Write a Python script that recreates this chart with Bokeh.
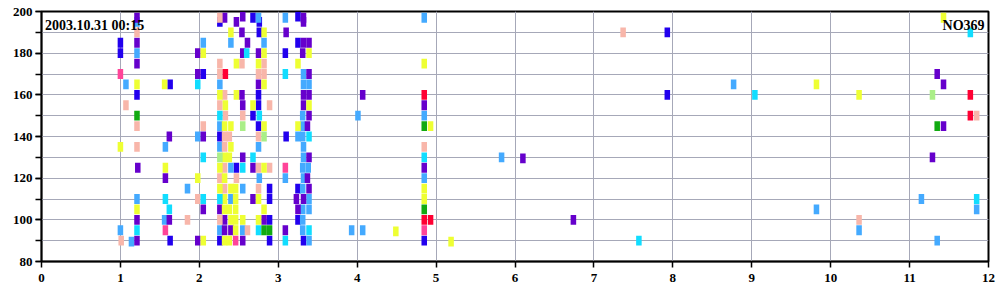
from bokeh.plotting import figure
from bokeh.models import Range1d, SingleIntervalTicker, Label, ColumnDataSource
from bokeh.embed import file_html
from bokeh.resources import INLINE

# ---- data (x in hours, y in MHz-like channel units) ----
blue_x = [1.00, 1.00, 1.21, 1.63, 2.05, 1.63, 2.26, 2.68, 2.76, 2.76, 2.75, 2.75, 2.68, 2.75, 2.26, 2.47,
          2.89, 2.89, 2.89, 2.26, 2.89, 3.25, 3.25, 3.09, 3.10, 3.25, 3.25, 3.32, 4.85, 7.93, 7.93]
blue_y = [185, 180, 160, 165, 170, 90, 195, 197, 195, 190, 160, 155, 150, 145, 140, 125,
          115, 110, 100, 90, 90, 197.5, 185, 180, 140, 115, 100, 90, 90, 190, 160]

lblue_x = [1.21, 1.21, 2.05, 1.07, 1.57, 1.98, 1.85, 1.21, 1.56, 1.00, 1.14, 2.75, 2.40, 2.82, 2.26, 2.26,
           2.26, 2.75, 2.40, 2.76, 2.55, 2.40, 2.26, 2.55, 3.09, 3.32, 3.32, 3.39, 3.31, 4.01, 3.31, 3.25,
           3.31, 3.32, 3.32, 3.31, 3.38, 3.09, 3.32, 3.31, 3.39, 3.31, 3.39, 3.31, 3.31, 3.93, 4.07, 3.39,
           4.85, 4.85, 4.85, 5.83, 8.77, 9.82, 10.36, 11.15, 11.85, 11.35]
lblue_y = [195, 180, 185, 165, 135, 140, 115, 110, 100, 95, 89.5, 197, 185, 185, 165, 145,
           135, 135, 125, 120, 115, 110, 95, 95, 197, 170, 165, 165, 150, 150, 145, 140,
           140, 135, 130, 125, 125, 120, 120, 115, 110, 105, 105, 100, 95, 95, 95, 90,
           197, 150, 120, 130, 165, 105, 95, 110, 105, 90]

purple_x = [1.21, 1.21, 1.98, 1.21, 1.98, 1.62, 2.05, 1.22, 1.57, 2.05, 1.21, 1.62, 1.21, 1.98, 2.32, 2.47,
            2.55, 2.54, 2.61, 2.55, 2.75, 2.75, 2.54, 2.55, 2.55, 2.68, 2.68, 2.26, 2.32, 2.82, 2.32, 2.40,
            2.55, 3.32, 3.32, 3.10, 3.32, 3.39, 3.31, 3.39, 3.32, 3.39, 4.07, 3.32, 3.39, 3.37, 3.39, 3.37,
            3.39, 3.23, 3.32, 3.25, 3.09, 4.85, 4.85, 6.10, 6.74, 11.35, 11.43, 11.43, 11.29]
purple_y = [197, 185, 180, 175, 170, 140, 140, 125, 120, 105, 100, 100, 90, 90, 197, 195,
            197.5, 190, 185, 180, 180, 165, 160, 155, 130, 125, 110, 105, 100, 100, 95, 95,
            90, 195, 197, 190, 185, 185, 180, 170, 160, 160, 160, 155, 150, 145, 130, 120,
            115, 110, 110, 105, 95, 155, 125, 129.5, 100, 170, 165, 145, 130]

pink_x = [1.21, 1.07, 1.21, 2.05, 1.21, 1.98, 1.85, 1.01, 2.26, 2.26, 2.54, 2.82, 2.26, 2.75, 2.82, 2.32,
          2.26, 2.89, 2.33, 2.55, 2.32, 2.38, 2.75, 2.32, 2.32, 2.75, 2.89, 2.26, 2.47, 2.32, 2.75, 2.26,
          2.61, 4.85, 7.37, 10.36, 11.85]
pink_y = [190, 155, 145, 145, 135, 110, 100, 90, 197, 175, 175, 175, 170, 170, 170, 160,
          155, 155, 150, 150, 140, 140, 140, 135, 125, 125, 125, 120, 120, 115, 115, 100,
          95, 135, 190, 100, 150]

yellow_x = [2.05, 1.21, 1.56, 1.00, 1.57, 1.98, 1.21, 2.05, 2.40, 2.82, 2.82, 2.47, 2.75, 2.82, 2.26, 2.47,
            2.33, 2.68, 2.32, 2.40, 2.82, 2.40, 2.32, 2.38, 2.26, 2.82, 2.32, 2.26, 2.40, 2.46, 2.32, 2.46,
            2.75, 2.32, 2.38, 2.46, 2.82, 2.40, 2.46, 2.55, 2.75, 2.46, 2.32, 2.38, 3.39, 3.25, 3.39, 3.25,
            4.85, 4.93, 4.85, 4.85, 4.49, 5.19, 9.82, 10.36, 11.43]
yellow_y = [180, 165, 165, 135, 125, 120, 105, 90, 190, 190, 180, 175, 175, 165, 160, 160,
            155, 155, 145, 145, 145, 135, 130, 130, 125, 125, 120, 115, 115, 115, 110, 110,
            110, 105, 105, 105, 105, 100, 100, 100, 100, 95, 90, 90, 180, 175, 155, 145,
            175, 145, 115, 110, 94.5, 89.5, 165, 160, 197]

cyan_x = [1.98, 2.05, 1.57, 2.05, 1.62, 1.21, 2.60, 2.26, 2.76, 2.68, 2.55, 2.26, 2.75, 3.09, 3.39, 3.39,
          3.09, 4.85, 7.57, 9.04, 11.77, 11.85]
cyan_y = [165, 130, 110, 110, 105, 95, 180, 150, 150, 130, 125, 110, 95, 170, 140, 95,
          90, 130, 90, 160, 190, 110]

magenta_x = [1.00, 1.57, 2.46, 3.09, 4.85]
magenta_y = [170, 95, 90, 125, 95]

red_x = [2.33, 4.85, 4.85, 4.93, 11.77, 11.77]
red_y = [170, 160, 100, 100, 160, 150]

green_x = [1.21, 2.82, 2.89, 4.85, 4.85, 11.35]
green_y = [150, 95, 95, 145, 105, 145]

lgreen_x = [2.55, 2.82, 2.26, 11.29]
lgreen_y = [145, 140, 130, 160]

x_ticks = list(range(0, 13))
y_ticks = [80, 100, 120, 140, 160, 180, 200]
title_left = "2003.10.31 00:15"
title_right = "NO369"

series = [
    (blue_x, blue_y, "#2200ee"),
    (lblue_x, lblue_y, "#44aaff"),
    (purple_x, purple_y, "#6600cc"),
    (pink_x, pink_y, "#f8b6aa"),
    (yellow_x, yellow_y, "#eeff33"),
    (cyan_x, cyan_y, "#11ddff"),
    (magenta_x, magenta_y, "#ff4499"),
    (red_x, red_y, "#ff0033"),
    (green_x, green_y, "#11aa11"),
    (lgreen_x, lgreen_y, "#aaee88"),
]

FONT = "Liberation Serif"
GRID = "#a6a8b8"

p = figure(width=1000, height=300, x_range=Range1d(0, 12), y_range=Range1d(80, 200),
           output_backend="svg", toolbar_location=None,
           min_border_left=41, min_border_right=12, min_border_top=11, min_border_bottom=39)
p.background_fill_color = "white"
p.border_fill_color = "white"
p.outline_line_color = "black"
p.outline_line_width = 2

for xs, ys, col in series:
    src = ColumnDataSource(dict(x=xs, y=ys))
    p.rect(x="x", y="y", width=0.07, height=4.7, source=src,
           fill_color=col, line_color=None)

# axes
p.xaxis.ticker = SingleIntervalTicker(interval=1, num_minor_ticks=0)
p.yaxis.ticker = SingleIntervalTicker(interval=20, num_minor_ticks=2)
for ax in (p.xaxis[0], p.yaxis[0]):
    ax.axis_line_color = "black"
    ax.axis_line_width = 1.5
    ax.major_tick_line_color = "black"
    ax.major_tick_line_width = 1.5
    ax.major_tick_out = 6
    ax.major_tick_in = 0
    ax.minor_tick_out = 6
    ax.minor_tick_in = 0
    ax.minor_tick_line_width = 1.5
    ax.major_label_text_font = FONT
    ax.major_label_text_font_style = "bold"
    ax.major_label_text_font_size = "13px"
    ax.major_label_text_color = "black"
p.xaxis.minor_tick_line_color = None
p.yaxis.minor_tick_line_color = "black"
p.xaxis.major_label_standoff = 6
p.yaxis.major_label_standoff = 3

p.xgrid.grid_line_color = GRID
p.ygrid.grid_line_color = GRID
p.ygrid.minor_grid_line_color = GRID
p.xgrid.grid_line_width = 1
p.ygrid.grid_line_width = 1
p.ygrid.minor_grid_line_width = 1

p.add_layout(Label(x=0.045, y=193.3, text=title_left, text_font=FONT, text_font_style="bold",
                   text_font_size="14px", text_baseline="alphabetic", text_align="left",
                   text_color="black"))
p.add_layout(Label(x=11.95, y=193.3, text=title_right, text_font=FONT, text_font_style="bold",
                   text_font_size="14px", text_baseline="alphabetic", text_align="right",
                   text_color="black"))

open("out.html", "w").write(file_html(p, INLINE))
